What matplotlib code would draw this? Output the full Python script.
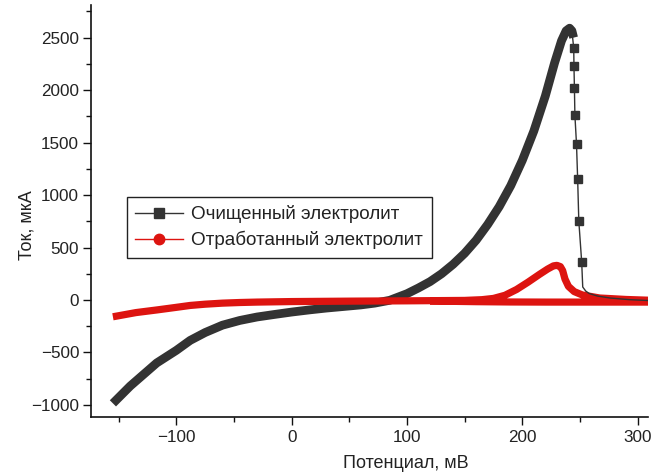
import matplotlib
matplotlib.use("Agg")
import matplotlib.pyplot as plt
from matplotlib.lines import Line2D
from matplotlib.ticker import MultipleLocator
import numpy as np

plt.rcParams["font.family"] = ["Liberation Sans", "DejaVu Sans"]

# Очищенный электролит: dense part (drawn thick) and steep drop (markers)
clean_x = [-155, -140, -117, -100, -88, -75, -60, -45, -30, -15, 0, 15, 30,
           45, 60, 72, 85, 100, 110, 120, 130, 140, 150, 160, 170, 180, 190,
           200, 210, 220, 228, 234, 238, 241, 243, 244.5]
clean_y = [-985, -820, -600, -480, -385, -310, -240, -195, -162, -138, -115,
           -95, -77, -62, -47, -30, -3, 60, 115, 175, 250, 340, 445, 570, 720,
           890, 1090, 1330, 1610, 1945, 2260, 2470, 2565, 2590, 2565, 2500]
drop_x = [241, 243, 244.6, 244.8, 245.2, 245.6, 247, 248, 249, 251.5, 252.4,
          255, 258, 265, 276, 293, 309]
drop_y = [2590, 2565, 2400, 2229, 2019, 1762, 1486, 1152, 752, 362, 124,
          85, 62, 38, 19, 3, -5]
drop_mark = [2, 3, 4, 5, 6, 7, 8, 9]

# Отработанный электролит (forward sweep with peak, then return branch)
used_x = [-155, -135, -117, -100, -88, -75, -60, -45, -30, 0, 50, 100, 150,
          165, 175, 185, 195, 205, 215, 222, 227, 230, 233, 235, 237, 240,
          245, 252, 267, 290, 309,
          309, 280, 250, 220, 190, 160, 120]
used_y = [-160, -120, -95, -70, -52, -40, -30, -24, -20, -15, -11, -8, -4,
          3, 15, 45, 100, 170, 245, 295, 325, 330, 318, 280, 200, 130,
          80, 48, 19, 5, -2,
          -20, -20, -20, -20, -19, -16, -10]

legend_labels = ["Очищенный электролит", "Отработанный электролит"]

C_BLACK = "#333333"
C_RED = "#dd1410"

fig = plt.figure(figsize=(6.65, 4.75), dpi=100)
ax = fig.add_axes([91 / 665, 58 / 475, 557 / 665, 412 / 475])

ax.plot(clean_x, clean_y, "-", color=C_BLACK, lw=6.3,
        solid_capstyle="butt", solid_joinstyle="round", zorder=2)
ax.plot(used_x, used_y, "-", color=C_RED, lw=5.2,
        solid_capstyle="butt", solid_joinstyle="round", zorder=3)
ax.plot(drop_x, drop_y, "-", color=C_BLACK, lw=1.0, zorder=4)
ax.plot(np.array(drop_x)[drop_mark], np.array(drop_y)[drop_mark], "s",
        color=C_BLACK, ms=6.2, zorder=5)

ax.set_xlim(-174, 309)
ax.set_ylim(-1115, 2811)
ax.xaxis.set_major_locator(MultipleLocator(100))
ax.xaxis.set_minor_locator(MultipleLocator(50))
ax.yaxis.set_major_locator(MultipleLocator(500))
ax.yaxis.set_minor_locator(MultipleLocator(250))
ax.tick_params(which="major", direction="out", length=6, width=1.0,
               labelsize=12.3, colors="#111111", labelcolor="#222222")
ax.tick_params(axis="y", which="major", pad=2.5)
ax.tick_params(which="minor", direction="out", length=3.5, width=1.0,
               colors="#111111")
for side in ("top", "right"):
    ax.spines[side].set_visible(False)
for side in ("left", "bottom"):
    ax.spines[side].set_linewidth(1.2)
    ax.spines[side].set_color("#111111")

ax.set_xlabel("Потенциал, мВ", fontsize=13, color="#222222")
ax.set_ylabel("Ток, мкА", fontsize=13, color="#222222")
ax.xaxis.set_label_coords(0.566, -0.092)
ax.yaxis.set_label_coords(-0.1, 0.466)

handles = [
    Line2D([], [], color=C_BLACK, lw=1.0, marker="s", ms=6.5),
    Line2D([], [], color=C_RED, lw=1.0, marker="o", ms=7.5),
]
leg = ax.legend(handles, legend_labels, loc="upper left",
                bbox_to_anchor=(0.0646, 0.534), borderaxespad=0,
                fontsize=13.6, frameon=True, fancybox=False, framealpha=1,
                edgecolor="#222222", handlelength=2.5, handletextpad=0.45,
                labelspacing=0.4, borderpad=0.45)
leg.get_frame().set_linewidth(1.0)
for t in leg.get_texts():
    t.set_color("#222222")

fig.savefig("out.png", dpi=100)
